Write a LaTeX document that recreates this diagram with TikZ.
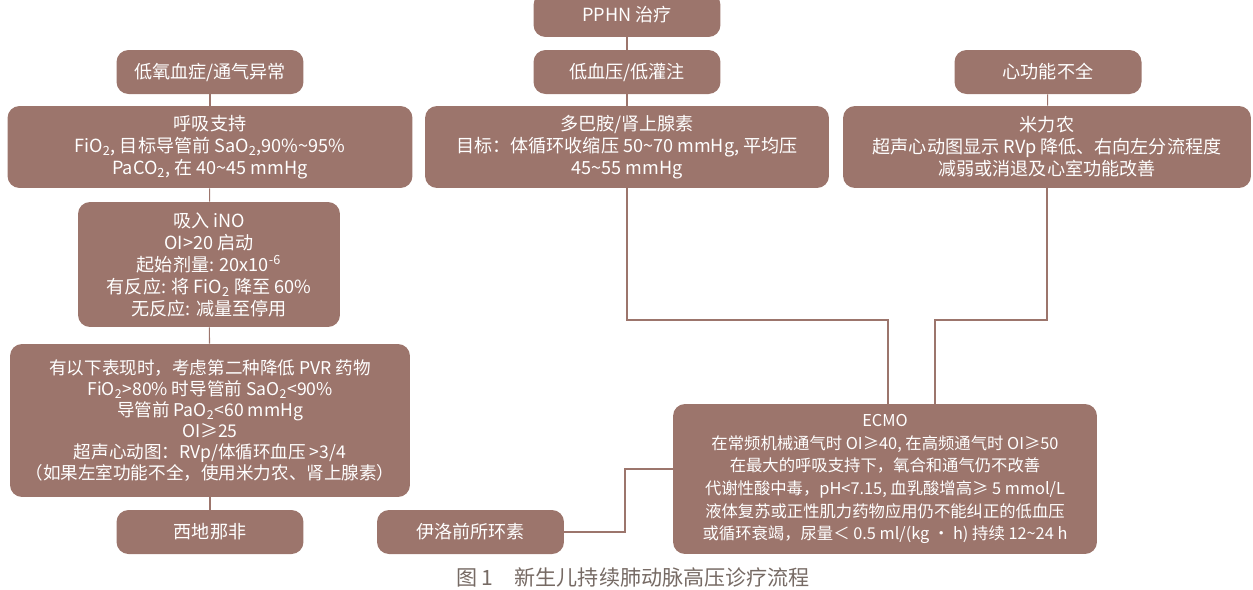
\documentclass[tikz,border=0pt]{standalone}
\usepackage{fontspec}
\usepackage{tikz}
\newfontfamily\cjk{Noto Sans CJK SC}
\definecolor{boxbrown}{RGB}{156,117,108}
\definecolor{capgray}{RGB}{118,106,100}
\newcommand{\tild}{\textasciitilde{}}

\begin{document}
\begin{tikzpicture}[x=0.02cm,y=-0.02cm,
    flow/.style={fill=boxbrown,text=white,rounded corners=0.24cm,align=center,inner sep=0pt,font=\cjk\fontsize{10.3}{12.5}\selectfont},
    short/.style={flow,minimum width=3.74cm,minimum height=0.88cm},
    link/.style={draw=boxbrown,line width=0.6pt}]
    \useasboundingbox (0,0) rectangle (1253,589);
    % top row
    \node[short] (pphn) at (627,15) {PPHN 治疗};
    \node[short] (hypox) at (210,72) {低氧血症/通气异常};
    \node[short] (hypot) at (627,72) {低血压/低灌注};
    \node[short] (cardio) at (1048,72) {心功能不全};
    % treatments
    \node[flow,minimum width=8.1cm,minimum height=1.64cm] (resp) at (210,147)
        {呼吸支持\\FiO\textsubscript{2}, 目标导管前 SaO\textsubscript{2},90\%\tild95\%\\PaCO\textsubscript{2}, 在 40\tild45 mmHg};
    \node[flow,minimum width=8.08cm,minimum height=1.64cm] (dopa) at (627,147)
        {多巴胺/肾上腺素\\目标：体循环收缩压 50\tild70 mmHg, 平均压\\45\tild55 mmHg};
    \node[flow,minimum width=8.16cm,minimum height=1.64cm] (milri) at (1047,147)
        {米力农\\超声心动图显示 RVp 降低、右向左分流程度\\减弱或消退及心室功能改善};
    \node[flow,minimum width=5.24cm,minimum height=2.5cm] (ino) at (209,264.5)
        {吸入 iNO\\OI>20 启动\\起始剂量: 20x10\textsuperscript{-6}\\有反应: 将 FiO\textsubscript{2} 降至 60\%\\无反应: 减量至停用};
    \node[flow,minimum width=8cm,minimum height=3.06cm,font=\cjk\fontsize{10}{12}\selectfont] (pvr) at (210,420.5)
        {有以下表现时，考虑第二种降低 PVR 药物\\FiO\textsubscript{2}>80\% 时导管前 SaO\textsubscript{2}<90\%\\导管前 PaO\textsubscript{2}<60 mmHg\\OI≥25\\超声心动图：RVp/体循环血压 >3/4\\（如果左室功能不全，使用米力农、肾上腺素）};
    \node[short] (sild) at (210,532) {西地那非};
    \node[short] (ilo) at (470.5,532) {伊洛前所环素};
    \node[flow,minimum width=8.48cm,minimum height=3cm,font=\cjk\fontsize{9.3}{12.9}\selectfont] (ecmo) at (885,479)
        {ECMO\\在常频机械通气时 OI≥40, 在高频通气时 OI≥50\\在最大的呼吸支持下，氧合和通气仍不改善\\代谢性酸中毒，pH<7.15, 血乳酸增高≥ 5 mmol/L\\液体复苏或正性肌力药物应用仍不能纠正的低血压\\或循环衰竭，尿量＜ 0.5 ml/(kg · h) 持续 12\tild24 h};
    % connectors
    \draw[link] (pphn) -- (hypot);
    \draw[link] (hypox) -- (resp);
    \draw[link] (hypot) -- (dopa);
    \draw[link] (cardio) -- (milri);
    \draw[link] (resp) -- (ino);
    \draw[link] (ino) -- (pvr);
    \draw[link] (pvr) -- (sild);
    \coordinate (j1) at (888,320);
    \coordinate (j2) at (935,320);
    \coordinate (j3) at (625,469);
    \draw[link] (dopa.south) |- (j1) -- (j1 |- ecmo.north);
    \draw[link] (milri.south) |- (j2) -- (j2 |- ecmo.north);
    \draw[link] (ilo.east) -| (j3) -- (j3 -| ecmo.west);
    % caption
    \node[text=capgray,font=\cjk\fontsize{12}{14}\selectfont] (cap) at (633,577) {图 1\hspace{1em}新生儿持续肺动脉高压诊疗流程};
\end{tikzpicture}
\end{document}
